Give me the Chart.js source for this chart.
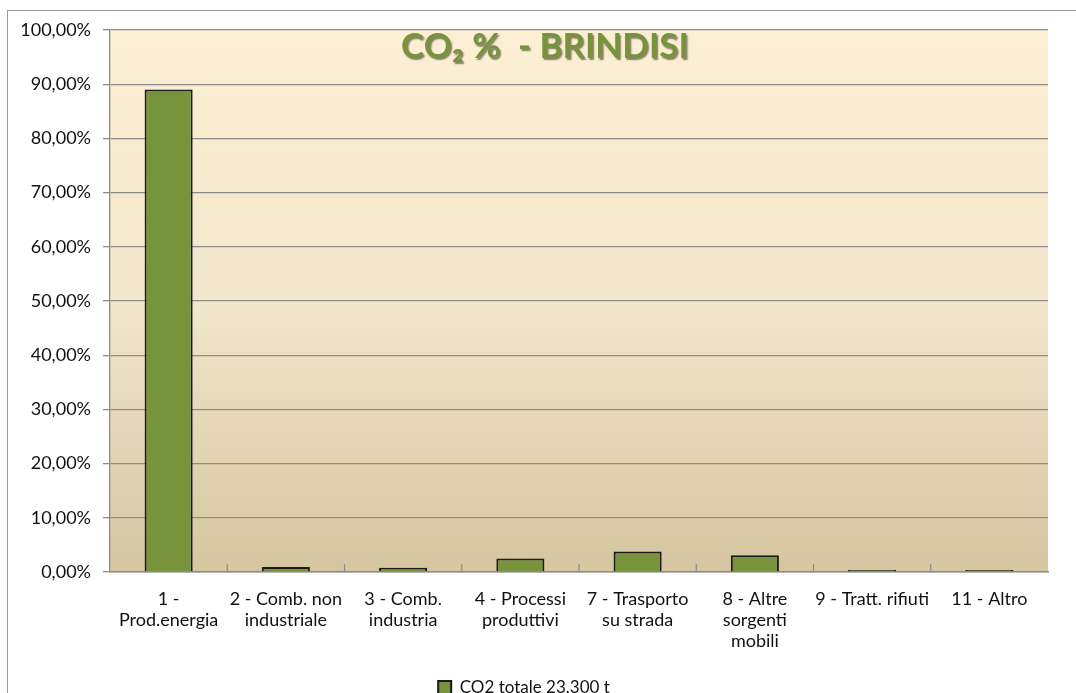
<!DOCTYPE html>
<html>
<head>
<meta charset="utf-8">
<title>CO2 % - BRINDISI</title>
<script src="https://cdn.jsdelivr.net/npm/chart.js@4/dist/chart.umd.min.js"></script>
<style>
    html, body { margin: 0; padding: 0; background: #fff; overflow: hidden; }
    #frame { position: absolute; left: 7px; top: 10px; width: 1200px; height: 800px; border: 1.5px solid #9a9a9a; }
    #wrap { position: absolute; left: 0; top: 0; width: 1076px; height: 706px; }
</style>
</head>
<body>
<div id="frame"></div>
<div id="wrap"><canvas id="chart"></canvas></div>
<script>
const categories = [
    ['1 -', 'Prod.energia'],
    ['2 - Comb. non', 'industriale'],
    ['3 - Comb.', 'industria'],
    ['4 - Processi', 'produttivi'],
    ['7 - Trasporto', 'su strada'],
    ['8 - Altre', 'sorgenti', 'mobili'],
    ['9 - Tratt. rifiuti'],
    ['11 - Altro']
];
const co2Percent = [89.0, 0.9, 0.8, 2.5, 3.8, 3.1, 0.35, 0.35];
const seriesName = 'CO2 totale 23.300 t';
const chartTitle = 'CO\u2082 %  - BRINDISI';

const plotBackground = {
    id: 'plotBackground',
    beforeDraw(chart) {
        const { ctx, chartArea: a } = chart;
        const g = ctx.createLinearGradient(0, a.top, 0, a.bottom);
        g.addColorStop(0, '#fdefd3');
        g.addColorStop(0.5, '#f2e6cc');
        g.addColorStop(1, '#d5c5a0');
        ctx.save();
        ctx.fillStyle = g;
        ctx.fillRect(a.left, a.top, a.right - a.left, a.bottom - a.top);
        ctx.restore();
    }
};

// small tick marks between categories, pointing up into the plot
const innerTicks = {
    id: 'innerTicks',
    afterDatasetsDraw(chart) {
        const { ctx, chartArea: a, scales: { x } } = chart;
        ctx.save();
        ctx.strokeStyle = '#8c8c8c';
        ctx.lineWidth = 1.2;
        for (let i = 1; i < categories.length; i++) {
            const px = (x.getPixelForValue(i - 1) + x.getPixelForValue(i)) / 2;
            ctx.beginPath();
            ctx.moveTo(px, a.bottom);
            ctx.lineTo(px, a.bottom - 8);
            ctx.stroke();
        }
        ctx.restore();
    }
};

const plotTitle = {
    id: 'plotTitle',
    afterDraw(chart) {
        const { ctx, chartArea: a } = chart;
        ctx.save();
        ctx.font = 'bold 35px Lato';
        ctx.textAlign = 'center';
        ctx.textBaseline = 'middle';
        ctx.shadowColor = 'rgba(40, 40, 20, 0.55)';
        ctx.shadowOffsetX = 1.5;
        ctx.shadowOffsetY = 1.5;
        ctx.shadowBlur = 1.5;
        ctx.fillStyle = '#77933c';
        ctx.fillText(chartTitle, 545, a.top + 17);
        ctx.restore();
    }
};

new Chart(document.getElementById('chart'), {
    type: 'bar',
    data: {
        labels: categories,
        datasets: [{
            label: seriesName,
            data: co2Percent,
            backgroundColor: '#77933c',
            borderColor: '#1a1a1a',
            borderWidth: 2,
            barPercentage: 0.41,
            categoryPercentage: 1
        }]
    },
    options: {
        responsive: true,
        maintainAspectRatio: false,
        animation: false,
        layout: { padding: { left: 0, right: 28, top: 30, bottom: 0 } },
        plugins: {
            title: { display: false },
            tooltip: { enabled: false },
            legend: {
                position: 'bottom',
                labels: {
                    color: '#111',
                    font: { family: 'Lato', size: 17 },
                    boxWidth: 13,
                    boxHeight: 13,
                    padding: 10
                }
            }
        },
        scales: {
            y: {
                min: 0,
                max: 100,
                ticks: {
                    stepSize: 10,
                    color: '#111',
                    font: { family: 'Lato', size: 18 },
                    padding: 12,
                    callback: v => v.toFixed(2).replace('.', ',') + '%'
                },
                grid: { color: '#8c8c8c', lineWidth: 1.3, tickLength: 7, tickColor: '#8c8c8c' },
                border: { display: true, color: '#8c8c8c', width: 1.3 },
                afterFit(scale) { scale.width = 110; }
            },
            x: {
                offset: true,
                grid: { display: false },
                border: { display: true, color: '#8c8c8c', width: 1.5 },
                ticks: {
                    color: '#111',
                    font: { family: 'Lato', size: 18, lineHeight: 1.17 },
                    padding: 9,
                    maxRotation: 0,
                    autoSkip: false
                },
                afterFit(scale) { scale.height = 97; }
            }
        }
    },
    plugins: [plotBackground, innerTicks, plotTitle]
});
</script>
</body>
</html>
